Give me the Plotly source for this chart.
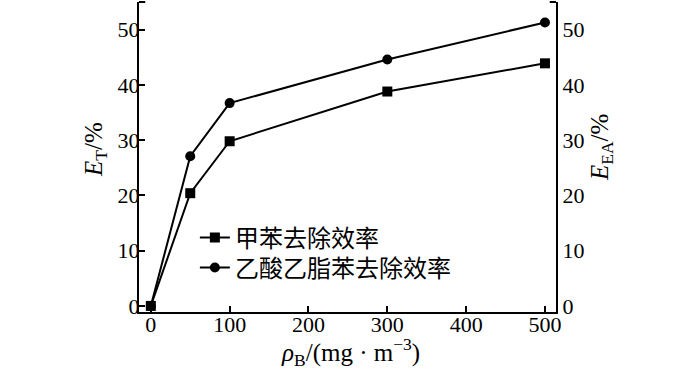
import plotly.graph_objects as go

x_vals = [0, 50, 100, 300, 500]
toluene = [0, 20.4, 29.8, 38.8, 43.9]
ethyl_acetate = [0, 27.1, 36.7, 44.6, 51.3]
x_ticks = [0, 100, 200, 300, 400, 500]
y_ticks = [0, 10, 20, 30, 40, 50]
names = ["甲苯去除效率", "乙酸乙脂苯去除效率"]

serif = "Liberation Serif, Times New Roman, serif"
cjk = "Noto Sans CJK SC, sans-serif"

fig = go.Figure()
fig.add_trace(go.Scatter(
    x=x_vals, y=toluene, name=names[0], mode="lines+markers",
    line=dict(color="black", width=2),
    marker=dict(symbol="square", size=10, color="black"),
    legend="legend",
))
fig.add_trace(go.Scatter(
    x=x_vals, y=ethyl_acetate, name=names[1], mode="lines+markers",
    line=dict(color="black", width=2),
    marker=dict(symbol="circle", size=10, color="black"),
    yaxis="y2", legend="legend2",
))

yr = [-1.1, 55]
tf = dict(family=serif, size=22, color="black")
leg = dict(xanchor="left", yanchor="middle", bgcolor="rgba(0,0,0,0)",
           font=dict(family=cjk, size=24, color="black"), itemwidth=30)
fig.update_layout(
    width=700, height=369,
    margin=dict(l=139, r=144, t=2, b=57),
    paper_bgcolor="white", plot_bgcolor="white",
    font=dict(family=serif, size=22, color="black"),
    showlegend=True,
    legend=dict(x=0.134, y=0.239, **leg),
    legend2=dict(x=0.134, y=0.142, **leg),
    xaxis=dict(range=[-15, 514], tickvals=x_ticks, ticks="inside", ticklen=6,
               tickwidth=1.5, tickcolor="black", showline=True, linecolor="black",
               linewidth=2, showgrid=False, zeroline=False, automargin=False,
               tickfont=tf, ticklabelstandoff=-8),
    yaxis=dict(range=yr, tickvals=y_ticks, ticks="inside", ticklen=6,
               tickwidth=1.5, tickcolor="black", showline=True, linecolor="black",
               linewidth=2, showgrid=False, zeroline=False, automargin=False,
               tickfont=tf, ticklabelstandoff=-7),
    yaxis2=dict(range=yr, tickvals=y_ticks, ticks="", overlaying="y", side="right",
                showline=True, linecolor="black", linewidth=2, showgrid=False,
                zeroline=False, automargin=False, tickfont=tf),
)
# axis titles
fig.add_annotation(text="<i>E</i><sub>T</sub>/%", xref="paper", yref="paper",
                   x=-0.103, y=0.523, xanchor="center", yanchor="middle",
                   textangle=-90, showarrow=False, font=dict(family=serif, size=25))
fig.add_annotation(text="<i>E</i><sub>EA</sub>/%", xref="paper", yref="paper",
                   x=1.108, y=0.529, xanchor="center", yanchor="middle",
                   textangle=-90, showarrow=False, font=dict(family=serif, size=25))
fig.add_annotation(text="<i>ρ</i><sub>B</sub>/(mg · m<sup>−3</sup>)", xref="paper",
                   yref="paper", x=0.506, y=-0.128, xanchor="center", yanchor="middle",
                   showarrow=False, font=dict(family=serif, size=25))
# small hooks at the top of each vertical axis
fig.add_shape(type="line", xref="paper", yref="paper", x0=0, x1=0.015, y0=1, y1=1,
              line=dict(color="black", width=2))
fig.add_shape(type="line", xref="paper", yref="paper", x0=0.985, x1=1, y0=1, y1=1,
              line=dict(color="black", width=2))

fig.write_html("out.html", config={"displayModeBar": False},
               post_script="document.body.style.margin='0px';")
